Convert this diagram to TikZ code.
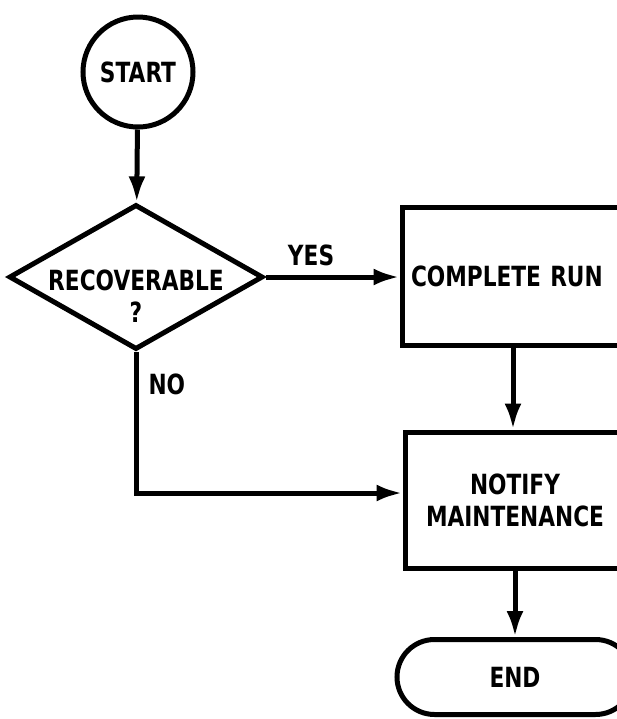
\documentclass[tikz,border=0pt]{standalone}
\usepackage{fontspec}
\setmainfont[FakeStretch=0.78]{DejaVu Sans}
\usetikzlibrary{arrows.meta,shapes.geometric,shapes.misc}

\begin{document}
\begin{tikzpicture}[x=0.5pt,y=-0.5pt,line width=2.5pt,
   txt/.style={font=\fontsize{13.9pt}{16pt}\selectfont\bfseries,inner sep=0pt},
   flow/.style={-{Latex[length=13pt,width=8.5pt]}},
   terminal/.style={draw,circle,minimum size=55pt,inner sep=0pt,txt},
   decision/.style={draw,diamond,minimum width=127pt,minimum height=72.5pt,inner sep=0pt},
   process/.style={draw,rectangle,txt,align=center},
   stopbox/.style={draw,rounded rectangle,minimum width=118pt,minimum height=37.5pt,txt}]
  \useasboundingbox (0,0) rectangle (617,719);
  \clip (0,0) rectangle (617,719);
  \node[terminal] (start) at (138,72) {START};
  \node[decision] (rec) at (136,277) {};
  \node[txt,align=center,anchor=north] (rectxt) at (136,267) {RECOVERABLE\\?};
  \node[process,align=left,text width=102pt,inner xsep=4.5pt,minimum height=69pt] (run) at (513,276) {COMPLETE RUN};
  \node[process,minimum width=110pt,minimum height=68pt] (notify) at (515,500) {NOTIFY\\MAINTENANCE};
  \node[stopbox] (end) at (515,677) {END};
  \draw[flow] (start) -- (rec);
  \draw[flow] (rec.east) -- (rec.east -| run.west)
     node[txt,pos=0.34,above=4.5pt] (yes) {YES};
  \draw[flow] (rec.south) |- ([yshift=3.5pt]notify.west)
     node[txt,pos=0.116,right=5pt] (no) {NO};
  \draw[flow] (run.south) -- (run.south |- notify.north);
  \draw[flow] (notify.south) -- (end.north);
\end{tikzpicture}
\end{document}
